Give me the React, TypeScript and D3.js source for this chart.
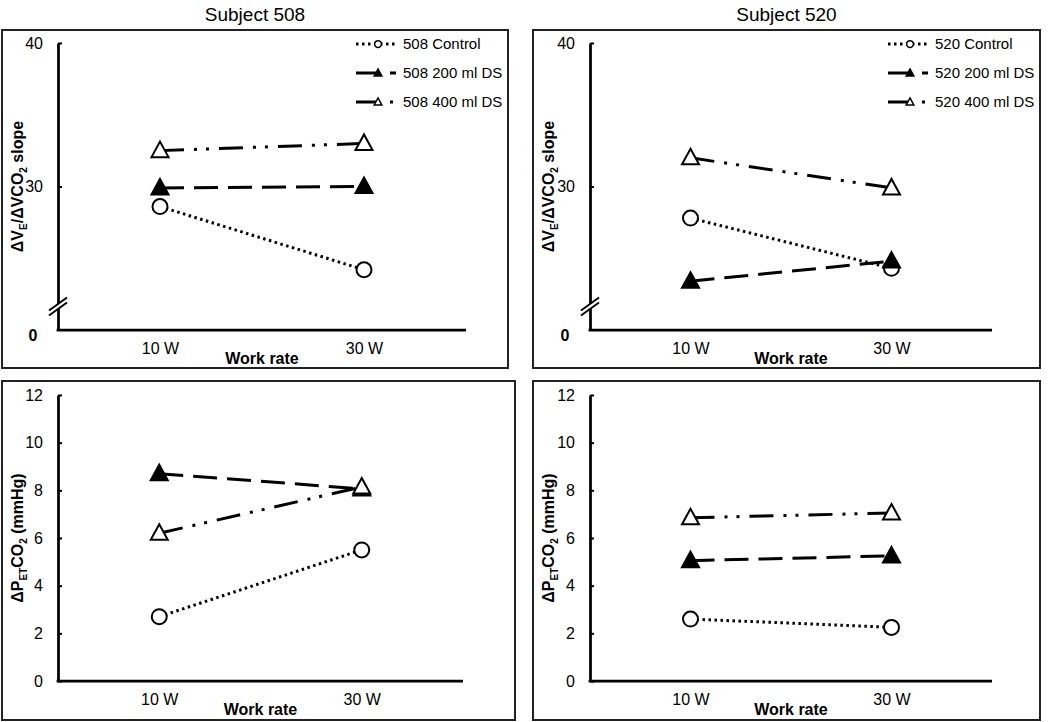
import {
  axisBottom,
  axisLeft,
  line,
  scaleLinear,
  scalePoint,
  select,
} from "d3";
import React, { useEffect, useRef } from "react";

const FONT = "'Liberation Sans', Arial, Helvetica, sans-serif";

const workRates = ["10 W", "30 W"];
const slopeTicks = [30, 40];
const petTicks = [0, 2, 4, 6, 8, 10, 12];
const seriesNames = ["Control", "200 ml DS", "400 ml DS"];

// VE/VCO2 slope
const slope508Control = [28.6, 24.2];
const slope508Ds200 = [29.9, 30.0];
const slope508Ds400 = [32.5, 33.0];
const slope520Control = [27.8, 24.3];
const slope520Ds200 = [23.4, 24.8];
const slope520Ds400 = [32.0, 29.9];

// PETCO2 change (mmHg)
const pet508Control = [2.7, 5.5];
const pet508Ds200 = [8.7, 8.06];
const pet508Ds400 = [6.2, 8.14];
const pet520Control = [2.6, 2.25];
const pet520Ds200 = [5.05, 5.25];
const pet520Ds400 = [6.85, 7.05];

const seriesStyles = [
  { dash: "2.5,3.5", marker: "circle" },
  { dash: "24,10", marker: "filled" },
  { dash: "24,10,3,9,3,10", marker: "open" },
];

type Layout = {
  box: [number, number, number, number];
  left: number;
  right: number;
  top: number;
  bottom: number;
};

function drawMarker(g: any, type: string, cx: number, cy: number, s: number) {
  if (type === "circle") {
    g.append("circle")
      .attr("cx", cx)
      .attr("cy", cy)
      .attr("r", 7.5 * s)
      .attr("fill", "#fff")
      .attr("stroke", "#000")
      .attr("stroke-width", Math.max(2 * s, 1.5));
  } else {
    g.append("path")
      .attr(
        "d",
        `M${cx},${cy - 9 * s}L${cx + 8.5 * s},${cy + 6.5 * s}L${cx - 8.5 * s},${cy + 6.5 * s}Z`
      )
      .attr("fill", type === "filled" ? "#000" : "#fff")
      .attr("stroke", "#000")
      .attr("stroke-width", Math.max(2 * s, 1.5))
      .attr("stroke-linejoin", "miter");
  }
}

function Panel({
  title,
  subject,
  values,
  kind,
  layout,
}: {
  title?: string;
  subject: string;
  values: number[][];
  kind: "slope" | "pet";
  layout: Layout;
}) {
  const ref = useRef<SVGGElement>(null);

  useEffect(() => {
    const g = select(ref.current);
    g.selectAll("*").remove();
    const [bx, by, bw, bh] = layout.box;
    const isSlope = kind === "slope";

    g.append("rect")
      .attr("x", bx)
      .attr("y", by)
      .attr("width", bw)
      .attr("height", bh)
      .attr("fill", "none")
      .attr("stroke", "#222")
      .attr("stroke-width", 2);

    if (title) {
      g.append("text")
        .attr("x", bx + bw / 2)
        .attr("y", by - 9)
        .attr("text-anchor", "middle")
        .attr("font-family", FONT)
        .attr("font-size", 19)
        .text(title);
    }

    const xScale = scalePoint<string>()
      .domain(workRates)
      .range([layout.left, layout.right])
      .padding(0.5);

    const yScale = scaleLinear()
      .domain(isSlope ? [20, 40] : [0, 12])
      .range([layout.bottom, layout.top]);

    // y axis, ticks pointing inside
    const yAxis = axisLeft(yScale)
      .tickValues(isSlope ? slopeTicks : petTicks)
      .tickSizeInner(-4)
      .tickSizeOuter(0)
      .tickPadding(15);

    const ya = g
      .append("g")
      .attr("transform", `translate(${layout.left},0)`)
      .call(yAxis)
      .attr("font-family", FONT)
      .attr("font-size", 16);
    ya.select(".domain").attr("stroke", "#000").attr("stroke-width", 2.75);
    ya.selectAll(".tick line").attr("stroke", "#000").attr("stroke-width", 2);
    ya.selectAll(".tick text").attr("fill", "#000");

    // x axis
    g.append("line")
      .attr("x1", layout.left - 1.4)
      .attr("x2", layout.right)
      .attr("y1", layout.bottom)
      .attr("y2", layout.bottom)
      .attr("stroke", "#000")
      .attr("stroke-width", 2.75);

    const xa = g
      .append("g")
      .attr("transform", `translate(0,${layout.bottom})`)
      .call(axisBottom(xScale).tickSize(0).tickPadding(13))
      .attr("font-family", FONT)
      .attr("font-size", 16);
    xa.select(".domain").remove();
    xa.selectAll(".tick text").attr("fill", "#000");

    g.append("text")
      .attr("x", (layout.left + layout.right) / 2)
      .attr("y", layout.bottom + 34)
      .attr("text-anchor", "middle")
      .attr("font-family", FONT)
      .attr("font-size", 16)
      .attr("font-weight", "bold")
      .text("Work rate");

    // y axis title
    const yt = g
      .append("text")
      .attr(
        "transform",
        `translate(${bx + 21},${(layout.top + layout.bottom) / 2}) rotate(-90)`
      )
      .attr("text-anchor", "middle")
      .attr("font-family", FONT)
      .attr("font-size", 16)
      .attr("font-weight", "bold");
    if (isSlope) {
      yt.append("tspan").text("ΔV");
      yt.append("tspan").attr("dy", 4).attr("font-size", 10).text("E");
      yt.append("tspan").attr("dy", -4).text("/ΔVCO");
      yt.append("tspan").attr("dy", 4).attr("font-size", 10).text("2");
      yt.append("tspan").attr("dy", -4).text(" slope");
    } else {
      yt.append("tspan").text("ΔP");
      yt.append("tspan").attr("dy", 4).attr("font-size", 10).text("ET");
      yt.append("tspan").attr("dy", -4).text("CO");
      yt.append("tspan").attr("dy", 4).attr("font-size", 10).text("2");
      yt.append("tspan").attr("dy", -4).text(" (mmHg)");
    }

    if (isSlope) {
      // bold zero under the broken axis
      g.append("text")
        .attr("x", layout.left - 25)
        .attr("y", layout.bottom + 5)
        .attr("dy", "0.35em")
        .attr("text-anchor", "middle")
        .attr("font-family", FONT)
        .attr("font-size", 16)
        .attr("font-weight", "bold")
        .text("0");

      // axis break marks
      const ax = layout.left;
      const bY = yScale(21.6);
      g.append("path")
        .attr(
          "d",
          `M${ax - 8},${bY + 3.5}L${ax + 8},${bY - 8.5}L${ax + 8},${bY - 3.5}L${ax - 8},${bY + 8.5}Z`
        )
        .attr("fill", "#fff");
      [-2.5, 2.5].forEach((d) => {
        g.append("line")
          .attr("x1", ax - 9)
          .attr("y1", bY + 6 + d)
          .attr("x2", ax + 9)
          .attr("y2", bY - 7 + d)
          .attr("stroke", "#000")
          .attr("stroke-width", 2);
      });
    }

    const lineGenerator = line<number>()
      .x((_, i) => xScale(workRates[i]) as number)
      .y((d) => yScale(d));

    values.forEach((data, index) => {
      const style = seriesStyles[index];
      g.append("path")
        .datum(data)
        .attr("d", lineGenerator)
        .attr("fill", "none")
        .attr("stroke", "#000")
        .attr("stroke-width", 3)
        .attr("stroke-dasharray", style.dash);
      data.forEach((v, i) => {
        drawMarker(g, style.marker, xScale(workRates[i]) as number, yScale(v), 1);
      });
    });

    if (isSlope) {
      const textX = bx + bw - 105;
      seriesNames.forEach((name, index) => {
        const style = seriesStyles[index];
        const rowY = by + 14 + index * 29;
        g.append("line")
          .attr("x1", textX - 47)
          .attr("x2", textX - 7)
          .attr("y1", rowY)
          .attr("y2", rowY)
          .attr("stroke", "#000")
          .attr("stroke-width", 3)
          .attr("stroke-dasharray", style.dash);
        drawMarker(g, style.marker, textX - 25, rowY, 0.45);
        g.append("text")
          .attr("x", textX)
          .attr("y", rowY)
          .attr("dy", "0.35em")
          .attr("font-family", FONT)
          .attr("font-size", 15)
          .text(`${subject} ${name}`);
      });
    }
  }, [title, subject, values, kind, layout]);

  return <g ref={ref} />;
}

const layoutTL: Layout = { box: [2, 30, 506, 338], left: 58, right: 466, top: 43, bottom: 330 };
const layoutTR: Layout = { box: [533, 30, 507, 338], left: 590, right: 992, top: 43, bottom: 330 };
const layoutBL: Layout = { box: [2, 381, 513, 339], left: 58, right: 463, top: 395, bottom: 681 };
const layoutBR: Layout = { box: [533, 381, 507, 339], left: 590, right: 992, top: 395, bottom: 681 };

export default function App() {
  return (
    <svg
      width={1050}
      height={722}
      style={{ position: "absolute", left: 0, top: 0, background: "#fff" }}
    >
      <Panel
        title="Subject 508"
        subject="508"
        kind="slope"
        values={[slope508Control, slope508Ds200, slope508Ds400]}
        layout={layoutTL}
      />
      <Panel
        title="Subject 520"
        subject="520"
        kind="slope"
        values={[slope520Control, slope520Ds200, slope520Ds400]}
        layout={layoutTR}
      />
      <Panel
        subject="508"
        kind="pet"
        values={[pet508Control, pet508Ds200, pet508Ds400]}
        layout={layoutBL}
      />
      <Panel
        subject="520"
        kind="pet"
        values={[pet520Control, pet520Ds200, pet520Ds400]}
        layout={layoutBR}
      />
    </svg>
  );
}
